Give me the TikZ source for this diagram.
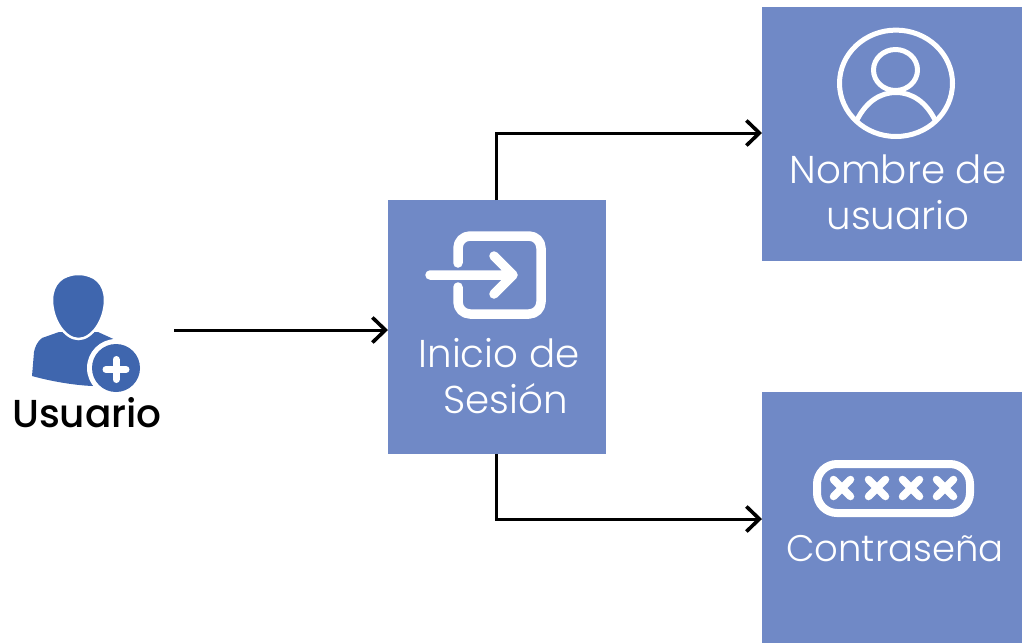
\documentclass[tikz,border=0pt]{standalone}
\usepackage{fontspec}
\setmainfont{Poppins}
\newfontfamily\lightface{Poppins Light}
\newfontfamily\medface{Poppins Medium}
\usetikzlibrary{arrows.meta}
\definecolor{boxblue}{HTML}{7089C6}
\definecolor{iconblue}{HTML}{3F66AE}
\tikzset{
  panel/.style={draw=none,fill=boxblue,inner sep=0pt,anchor=north west},
  boxlabel/.style={text=white,font=\lightface\fontsize{38.8}{46}\selectfont,align=center,inner sep=0pt},
  passlabel/.style={text=white,font=\lightface\fontsize{37}{46}\selectfont,align=center,inner sep=0pt},
  userlabel/.style={text=black,font=\medface\fontsize{39}{44}\selectfont,inner sep=0pt},
  link/.style={draw=black,line width=3pt,-{Straight Barb[length=13pt,width=25pt,line width=3.6pt]}},
  iconline/.style={draw=white,line cap=round,line join=round},
}
\begin{document}
\begin{tikzpicture}[x=1pt,y=-1pt]
\useasboundingbox (0,0) rectangle (1022,643);
% panels
\node[panel,minimum width=218pt,minimum height=254pt] (login) at (388,200) {};
\node[panel,minimum width=260pt,minimum height=254pt] (name) at (762,7) {};
\node[panel,minimum width=260pt,minimum height=251pt] (pass) at (762,392) {};
\coordinate (userout) at (174,330);
\coordinate (nameout) at (496.5,133);
\coordinate (passout) at (496.5,519);
% connectors
\draw[link] (userout) -- (userout -| login.west);
\draw[link] (login.north -| nameout) |- (nameout -| name.west);
\draw[link] (login.south -| passout) |- (passout -| pass.west);
% user icon
\fill[iconblue] (59,332) -- (42,338) .. controls (37,342) and (35,347) .. (34,352) -- (32,376)
  .. controls (50,381) and (72,385) .. (92,386) -- (120,380) -- (120,342) -- (98,332) -- cycle;
\fill[iconblue,draw=white,line width=2.5pt] (78.5,274) .. controls (95,274) and (105,284) .. (105,300)
  .. controls (105,320) and (92,339) .. (78.5,339) .. controls (65,339) and (52,320) .. (52,300)
  .. controls (52,284) and (62,274) .. (78.5,274) -- cycle;
\fill[white] (116,368) circle[radius=29];
\fill[iconblue] (116,368) circle[radius=24];
\draw[line width=7pt,white,line cap=round] (106,369.5) -- (126,369.5) (116,359.5) -- (116,379.5);
\node[userlabel] (user) at (87,413) {Usuario};
% login icon
\draw[iconline,line width=9.5pt] (458,263) -- (458,248) arc[start angle=180,end angle=270,radius=12]
  -- (529,236) arc[start angle=270,end angle=360,radius=12] -- (541,302) arc[start angle=0,end angle=90,radius=12]
  -- (470,314) arc[start angle=90,end angle=180,radius=12] -- (458,287);
\draw[iconline,line width=9.5pt] (430,275) -- (513,275) (494,256) -- (513,275) -- (494,294);
\node[boxlabel] (logintext) at (499,376.5) {Inicio de\\\hspace*{13pt}Sesión};
% name icon
\draw[iconline,line width=5pt] (896,83.3) ellipse[x radius=56.5,y radius=53.2];
\draw[iconline,line width=5pt] (895.5,70) ellipse[x radius=22,y radius=20.5];
\draw[iconline,line width=5pt] (857,120) .. controls (866,102) and (880,92.5) .. (896,92.5) .. controls (912,92.5) and (926,102) .. (935,120);
\node[boxlabel] (nametext) at (898,192) {Nombre de\\usuario};
% password icon
\draw[white,line width=8pt] (837,464) -- (950,464) arc[start angle=270,end angle=360,radius=20] -- (970,493) arc[start angle=0,end angle=90,radius=20] -- (837,513) arc[start angle=90,end angle=180,radius=20] -- (817,484) arc[start angle=180,end angle=270,radius=20] -- cycle;
\foreach \cx in {842,877,911,945}{
  \draw[iconline,line width=7.5pt] (\cx-8.5,479.5) -- (\cx+8.5,496.5) (\cx-8.5,496.5) -- (\cx+8.5,479.5);
}
\node[passlabel] (passtext) at (895,549) {Contraseña};
\end{tikzpicture}
\end{document}
